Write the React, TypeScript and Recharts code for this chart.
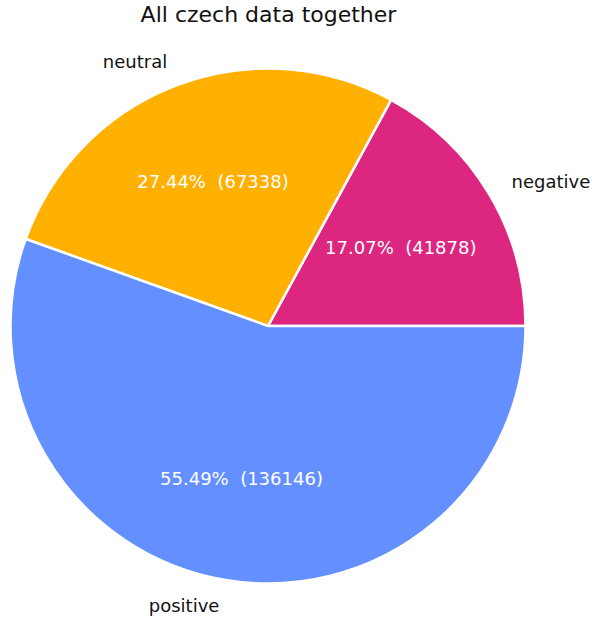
import { PieChart, Pie, Cell } from 'recharts';

const categories = ['negative', 'neutral', 'positive'];
const counts = [41878, 67338, 136146];
const colors = ['#DC267F', '#FFB000', '#648FFF'];

const chartData = categories.map((name, i) => ({ name, value: counts[i] }));

const RADIAN = Math.PI / 180;
const FONT = '"DejaVu Sans", sans-serif';

// matplotlib-style labels: name outside at 1.1r, pct + count inside at 0.6r
const renderLabel = (props: any) => {
  const { cx, cy, midAngle, outerRadius, percent, value, name } = props;
  const cos = Math.cos(-midAngle * RADIAN);
  const sin = Math.sin(-midAngle * RADIAN);
  const ox = cx + outerRadius * 1.1 * cos;
  const oy = cy + outerRadius * 1.1 * sin;
  const ix = cx + outerRadius * 0.6 * cos;
  const iy = cy + outerRadius * 0.6 * sin;
  return (
    <g>
      <text
        x={ox}
        y={oy}
        fill="#111"
        fontSize={18}
        fontFamily={FONT}
        textAnchor={cos >= 0 ? 'start' : 'end'}
        dominantBaseline="central"
      >
        {name}
      </text>
      <text
        x={ix}
        y={iy}
        fill="#fff"
        fontSize={18}
        fontFamily={FONT}
        textAnchor="middle"
        dominantBaseline="central"
        style={{ whiteSpace: 'pre' }}
      >
        {`${(percent * 100).toFixed(2)}%\u00a0\u00a0(${value})`}
      </text>
    </g>
  );
};

export default function App() {
  return (
    <div style={{ position: 'absolute', left: 0, top: 0, width: 592, height: 619, background: '#fff' }}>
      <div
        style={{
          position: 'absolute',
          left: 0,
          width: 537,
          top: 0,
          textAlign: 'center',
          fontFamily: FONT,
          fontSize: 22,
          lineHeight: '30px',
          color: '#111',
        }}
      >
        All czech data together
      </div>
      <PieChart width={592} height={619} margin={{ top: 0, right: 0, bottom: 0, left: 0 }}>
        <Pie
          data={chartData}
          dataKey="value"
          nameKey="name"
          cx={268}
          cy={326}
          outerRadius={257.5}
          startAngle={0}
          endAngle={360}
          stroke="#fff"
          strokeWidth={2.5}
          label={renderLabel}
          labelLine={false}
          isAnimationActive={false}
        >
          {chartData.map((d, i) => (
            <Cell key={d.name} fill={colors[i]} />
          ))}
        </Pie>
      </PieChart>
    </div>
  );
}
